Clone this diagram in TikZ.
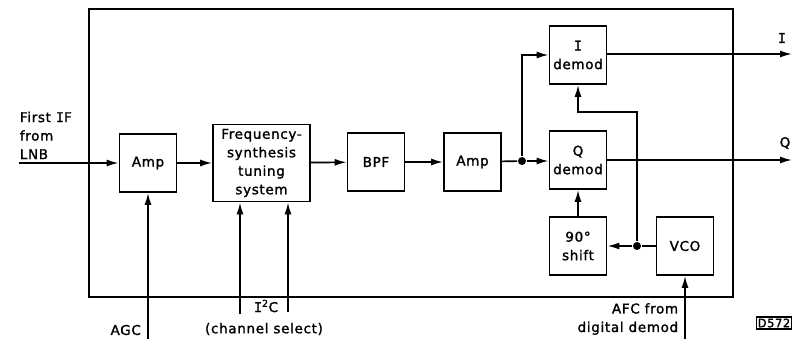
\documentclass[tikz,border=0pt]{standalone}
\usepackage{fontspec}
\setmainfont{DejaVu Sans}[LetterSpace=5,FakeBold=1.5]
\newfontfamily\monoI{DejaVu Sans Mono}[FakeBold=1.5]
\newcommand{\serI}{{\monoI I}}
\usepackage{tikz}
\usetikzlibrary{arrows.meta,positioning,calc}

\begin{document}
\begin{tikzpicture}[x=1pt,y=-1pt,line width=1.7pt,>={Latex[length=12pt,width=7pt]},every node/.style={font=\fontsize{13.5}{18.5}\selectfont},box/.style={draw,minimum width=57pt,minimum height=58pt,align=center,inner sep=0.5pt},dot/.style={circle,fill,inner sep=0pt,minimum size=8pt}]
\useasboundingbox (0,0) rectangle (797,339);
\draw (89,9) rectangle (733,297);
\node[box] (amp1) at (148,163) {Amp};
\node[box,minimum width=97pt,minimum height=77pt] (freq) at (261.5,163) {Frequency-\\synthesis\\tuning\\system};
\node[box] (bpf) at (376,162) {BPF};
\node[box] (amp2) at (472.5,162) {Amp};
\node[dot] (split) at (522,161) {};
\node[box] (qdem) at (578,160) {Q\\demod};
\node[box] (idem) at (578,55) {\serI\\demod};
\node[box] (shift) at (578,246) {90°\\shift};
\node[box] (vco) at (685,246) {VCO};
\node[dot] (lo) at (637,246) {};
\coordinate (in) at (19,163);
\coordinate (agc) at (148,339);
\coordinate (i2ca) at (240,314);
\coordinate (i2cb) at (288,312);
\coordinate (afc) at (685,339);
\coordinate (iout) at (792,54);
\coordinate (qout) at (792,160);
\coordinate (bend) at (637,112);
\draw[->] (in) -- (amp1);
\draw[->] (amp1) -- (freq);
\draw[->] (freq) -- (bpf);
\draw[->] (bpf) -- (amp2);
\draw (amp2) -- (split);
\draw[->] (split) -- (split -| qdem.west);
\draw[->] (split) |- (idem.west);
\draw[->] (idem.east |- iout) -- (iout);
\draw[->] (qdem.east) -- (qout);
\draw[->] (shift) -- (qdem);
\draw (vco) -- (lo);
\draw[->] (lo) -- (shift);
\draw[->] (lo) -- (bend) -| (idem.south);
\draw[->] (agc) -- (amp1.south);
\draw[->] (i2ca) -- (i2ca |- freq.south);
\draw[->] (i2cb) -- (i2cb |- freq.south);
\draw[->] (afc) -- (vco);
\node[anchor=north west,align=left,inner sep=0pt] (iflabel) at (19,111) {First \serI F\\from\\LNB};
\node[anchor=east] (agclabel) at (145,330) {AGC};
\node (i2clabel) at (266,306) {\serI\textsuperscript{2}C};
\node (chlabel) at (264,329) {(channel select)};
\node[anchor=east,align=right,inner sep=0pt] (afclabel) at (679,319) {AFC from\\digital demod};
\node (ilabel) at (782,38) {\serI};
\node (qlabel) at (785,143) {Q};
\node[draw,line width=1.4pt,inner sep=1.5pt,font=\fontsize{11.5}{13}\selectfont] (figno) at (774,323) {D572};
\end{tikzpicture}
\end{document}
